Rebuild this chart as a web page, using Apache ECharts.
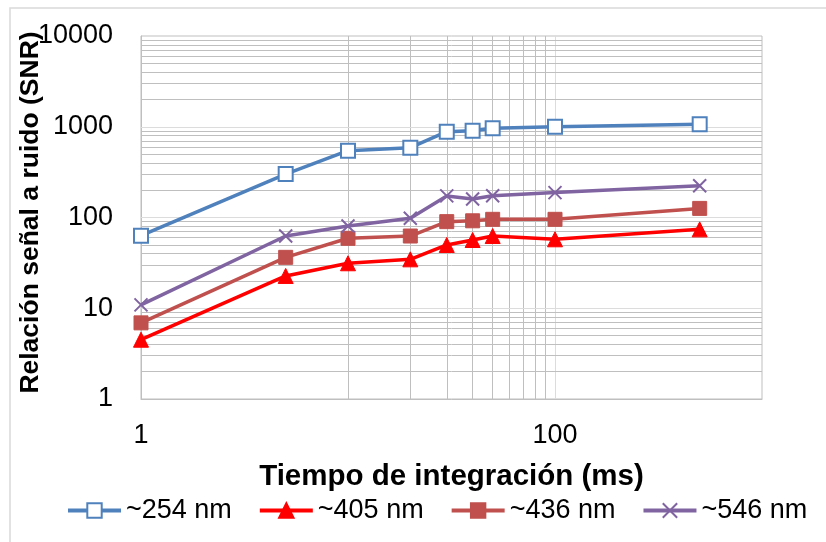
<!DOCTYPE html>
<html>
<head>
<meta charset="utf-8">
<script src="https://cdn.jsdelivr.net/npm/echarts@6/dist/echarts.min.js"></script>
<style>
html,body{margin:0;padding:0;background:#fff;}
#chart{width:826px;height:542px;}
</style>
</head>
<body>
<div id="chart"></div>
<script>
// Integration time (ms)
const times = [1, 5, 10, 20, 30, 40, 50, 100, 500];
// SNR per wavelength
const snr254 = [63, 301, 545, 588, 882, 904, 961, 1000, 1064];
const snr405 = [4.5, 22.7, 31.3, 34.6, 49.8, 56.5, 62.5, 57.5, 74];
const snr436 = [6.9, 36.4, 59, 62.5, 90, 92, 95.5, 95.5, 126];
const snr546 = [10.9, 62.5, 80.6, 98, 173, 160, 174, 188, 224];
const seriesNames = ['~254 nm', '~405 nm', '~436 nm', '~546 nm'];
// Axis tick labels shown
const xTickLabels = ['1', '100'];
const yTickLabels = ['1', '10', '100', '1000', '10000'];
// Gridline positions (data values)
const xMinorGrid = [10, 20, 30, 40, 50, 60, 70, 80, 90];
const xMajorGrid = [100];
const yMinorGrid = [2, 3, 4, 5, 6, 7, 8, 9, 20, 30, 40, 50, 60, 70, 80, 90,
  200, 300, 400, 500, 600, 700, 800, 900, 2000, 3000, 4000, 5000, 6000, 7000, 8000, 9000];
const yMajorGrid = [10, 100, 1000];

const FONT = "'Liberation Sans', Arial, sans-serif";
const pair = (ys) => times.map((t, i) => [t, ys[i]]);
const xPath = 'path://M0,0L10,10M10,0L0,10';

const chart = echarts.init(document.getElementById('chart'));
const mkLines = [].concat(
  xMinorGrid.map(v => ({xAxis: v, lineStyle: {color: '#bfbfbf'}})),
  xMajorGrid.map(v => ({xAxis: v, lineStyle: {color: '#dcdcdc'}})),
  yMinorGrid.map(v => ({yAxis: v, lineStyle: {color: '#bfbfbf'}})),
  yMajorGrid.map(v => ({yAxis: v, lineStyle: {color: '#dcdcdc'}}))
);

chart.setOption({
  animation: false,
  backgroundColor: '#fff',
  textStyle: {fontFamily: FONT},
  graphic: [{
    type: 'rect', shape: {x: 10, y: 8, width: 830, height: 545},
    style: {fill: 'none', stroke: '#d9d9d9', lineWidth: 1.5}, z: -10, silent: true
  }],
  grid: {left: 141, right: 64, top: 36, bottom: 143, show: true, borderColor: '#bfbfbf', borderWidth: 1,
    containLabel: false, outerBoundsMode: 'none'},
  legend: {
    data: seriesNames,
    left: 61, top: 492,
    itemWidth: 53, itemHeight: 18, itemGap: 26,
    lineStyle: {width: 4},
    textStyle: {fontSize: 27, color: '#000', fontFamily: FONT}
  },
  xAxis: {
    type: 'log', logBase: 10, min: 1, max: 1000,
    name: 'Tiempo de integración (ms)', nameLocation: 'middle', nameGap: 63,
    nameMoveOverlap: false,
    nameTextStyle: {fontSize: 29.5, fontWeight: 'bold', color: '#000', fontFamily: FONT},
    axisLine: {show: true, lineStyle: {color: '#bfbfbf'}},
    axisTick: {show: false},
    splitLine: {show: false},
    axisLabel: {
      fontSize: 27, color: '#000', margin: 23, fontFamily: FONT,
      formatter: v => (xTickLabels.indexOf(String(v)) >= 0 ? String(v) : '')
    }
  },
  yAxis: {
    type: 'log', logBase: 10, min: 1, max: 10000,
    name: 'Relación señal a ruido (SNR)', nameLocation: 'middle', nameGap: 97,
    nameMoveOverlap: false,
    nameTextStyle: {fontSize: 26.5, fontWeight: 'bold', color: '#000', fontFamily: FONT, padding: [0, 0, 0, 10]},
    axisLine: {show: true, lineStyle: {color: '#bfbfbf'}},
    axisTick: {show: false},
    splitLine: {show: false},
    axisLabel: {
      fontSize: 27, color: '#000', margin: 28, fontFamily: FONT,
      formatter: v => (yTickLabels.indexOf(String(v)) >= 0 ? String(v) : '')
    }
  },
  series: [
    {
      name: '_grid', type: 'line', data: [], z: 1, silent: true,
      markLine: {silent: true, symbol: ['none', 'none'], label: {show: false},
        lineStyle: {type: 'solid', width: 1}, animation: false, data: mkLines}
    },
    {
      name: seriesNames[0], type: 'line', data: pair(snr254), z: 5,
      symbol: 'rect', symbolSize: 14,
      lineStyle: {color: '#4F81BD', width: 3.5},
      itemStyle: {color: '#fff', borderColor: '#4F81BD', borderWidth: 2}
    },
    {
      name: seriesNames[1], type: 'line', data: pair(snr405), z: 5,
      symbol: 'triangle', symbolSize: 15,
      lineStyle: {color: '#FF0000', width: 3.5},
      itemStyle: {color: '#FF0000', borderColor: '#FF0000', borderWidth: 1}
    },
    {
      name: seriesNames[2], type: 'line', data: pair(snr436), z: 5,
      symbol: 'rect', symbolSize: 14,
      lineStyle: {color: '#C0504D', width: 3.5},
      itemStyle: {color: '#C0504D', borderColor: '#C0504D', borderWidth: 1}
    },
    {
      name: seriesNames[3], type: 'line', data: pair(snr546), z: 5,
      symbol: xPath, symbolSize: 13,
      lineStyle: {color: '#8064A2', width: 3.5},
      itemStyle: {color: '#8064A2', borderColor: '#8064A2', borderWidth: 2}
    }
  ]
});
</script>
</body>
</html>
